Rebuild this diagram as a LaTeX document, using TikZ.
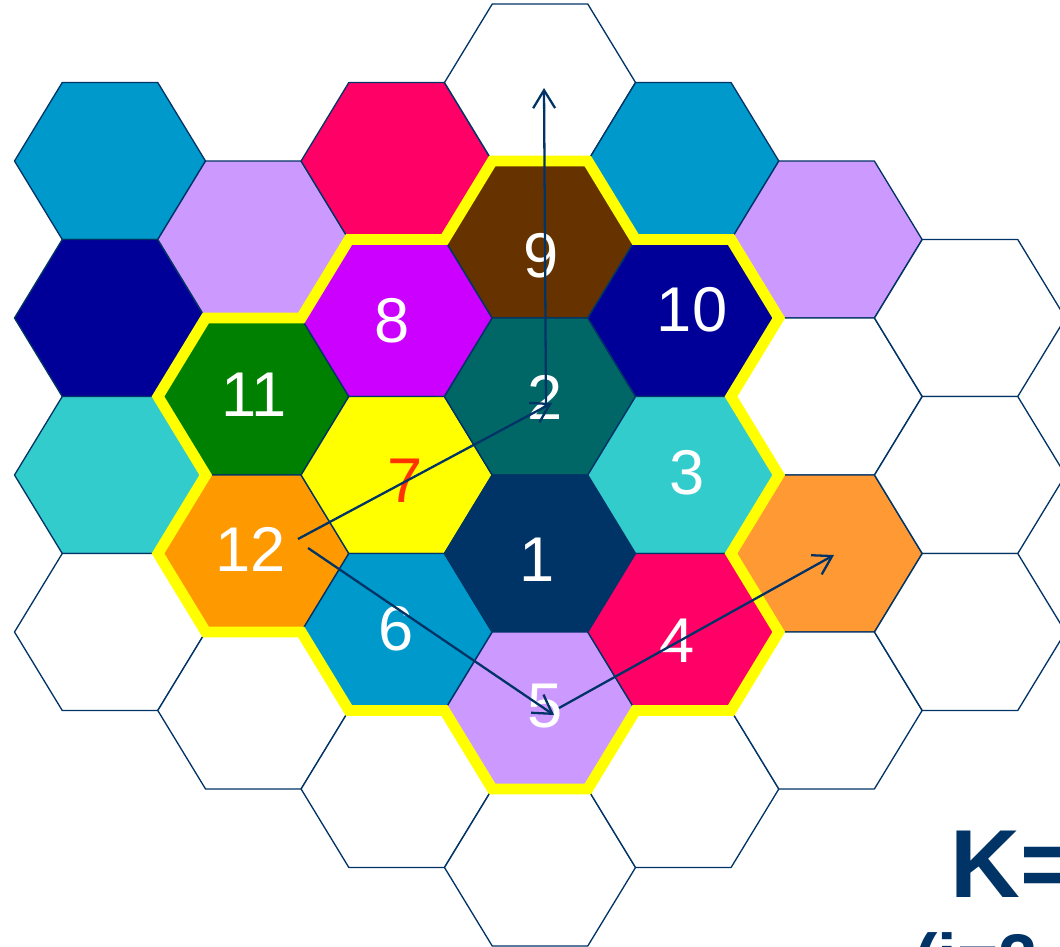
\documentclass[tikz,border=0pt]{standalone}
\usepackage{fontspec}
\setmainfont{Liberation Sans}
\usepackage{xcolor}
\usepackage{tikz}
\usetikzlibrary{arrows.meta}

\definecolor{cellblue}{HTML}{0099CC}
\definecolor{lavender}{HTML}{CC99FF}
\definecolor{rosepink}{HTML}{FF0066}
\definecolor{deepnavy}{HTML}{000099}
\definecolor{cyanish}{HTML}{33CCCC}
\definecolor{leafgreen}{HTML}{008000}
\definecolor{amber}{HTML}{FF9900}
\definecolor{cellviolet}{HTML}{CC00FF}
\definecolor{brightyellow}{HTML}{FFFF00}
\definecolor{cellbrown}{HTML}{663300}
\definecolor{darkteal}{HTML}{006666}
\definecolor{inkblue}{HTML}{003366}
\definecolor{softorange}{HTML}{FF9933}
\definecolor{redorange}{HTML}{FF3300}

% one flat-topped cell: centre x, centre y, fill
\newcommand{\hexcell}[3]{%
  \filldraw[hexline, fill=#3] (#1,#2) +(-95.5,0) -- +(-47.75,-78.5) -- +(47.75,-78.5)
    -- +(95.5,0) -- +(47.75,78.5) -- +(-47.75,78.5) -- cycle;}

\begin{document}
\begin{tikzpicture}[
  x=0.02cm, y=-0.02cm,
  hexline/.style={draw=inkblue, line width=0.75pt, line join=round},
  cluster/.style={draw=brightyellow, line width=6.2pt, line join=miter},
  cellnum/.style={text=white, font=\fontsize{36}{36}\selectfont, inner sep=0pt},
  shiftarrow/.style={draw=inkblue, line width=1.3pt, -{Straight Barb[length=3.6mm, width=4.4mm]}},
  kbig/.style={text=inkblue, font=\fontsize{55}{55}\selectfont\bfseries, inner sep=0pt}
]
  \useasboundingbox (0,0) rectangle (1060,946);
  \clip (0,0) rectangle (1060,946);

  % column 1
  \hexcell{110}{161}{cellblue}
  \hexcell{110}{318}{deepnavy}
  \hexcell{110}{475}{cyanish}
  \hexcell{110}{632}{white}
  % column 2
  \hexcell{253.3}{239.5}{lavender}
  \hexcell{253.3}{396.5}{leafgreen}
  \hexcell{253.3}{553.5}{amber}
  \hexcell{253.3}{710.5}{white}
  % column 3
  \hexcell{396.6}{161}{rosepink}
  \hexcell{396.6}{318}{cellviolet}
  \hexcell{396.6}{475}{brightyellow}
  \hexcell{396.6}{632}{cellblue}
  \hexcell{396.6}{789}{white}
  % column 4
  \hexcell{540}{82.5}{white}
  \hexcell{540}{239.5}{cellbrown}
  \hexcell{540}{396.5}{darkteal}
  \hexcell{540}{553.5}{inkblue}
  \hexcell{540}{710.5}{lavender}
  \hexcell{540}{867.5}{white}
  % column 5
  \hexcell{683.3}{161}{cellblue}
  \hexcell{683.3}{318}{deepnavy}
  \hexcell{683.3}{475}{cyanish}
  \hexcell{683.3}{632}{rosepink}
  \hexcell{683.3}{789}{white}
  % column 6
  \hexcell{826.6}{239.5}{lavender}
  \hexcell{826.6}{396.5}{white}
  \hexcell{826.6}{553.5}{softorange}
  \hexcell{826.6}{710.5}{white}
  % column 7
  \hexcell{970}{318}{white}
  \hexcell{970}{475}{white}
  \hexcell{970}{632}{white}

  % cluster outline
  \draw[cluster] (492.25,161) -- ++(95.5,0) -- ++(47.75,78.5) -- ++(95.5,0)
    -- ++(47.75,78.5) -- ++(-47.75,78.5) -- ++(47.75,78.5) -- ++(-47.75,78.5)
    -- ++(47.75,78.5) -- ++(-47.75,78.5) -- ++(-95.5,0) -- ++(-47.75,78.5)
    -- ++(-95.5,0) -- ++(-47.75,-78.5) -- ++(-95.5,0) -- ++(-47.75,-78.5)
    -- ++(-95.5,0) -- ++(-47.75,-78.5) -- ++(47.75,-78.5) -- ++(-47.75,-78.5)
    -- ++(47.75,-78.5) -- ++(95.5,0) -- ++(47.75,-78.5) -- ++(95.5,0) -- cycle;

  \node[cellnum] (c1)  at (537,560)   {1};
  \node[cellnum] (c2)  at (545,397.5) {2};
  \node[cellnum] (c3)  at (687,473)   {3};
  \node[cellnum] (c4)  at (677.5,641) {4};
  \node[cellnum] (c5)  at (545.5,706) {5};
  \node[cellnum] (c6)  at (396,629)   {6};
  \node[cellnum, text=redorange] (c7) at (405,481) {7};
  \node[cellnum] (c8)  at (392,321)   {8};
  \node[cellnum] (c9)  at (541,256)   {9};
  \node[cellnum] (c10) at (692,309.5) {10};
  \node[cellnum] (c11) at (254,394.5) {11};
  \node[cellnum] (c12) at (251,549)   {12};

  % shift end points
  \coordinate (up0) at (546,405);
  \coordinate (up1) at (544,88);
  \coordinate (a0)  at (298,539);
  \coordinate (a1)  at (552,403);
  \coordinate (b0)  at (308,548);
  \coordinate (b1)  at (554,715);
  \coordinate (d0)  at (559,708);
  \coordinate (d1)  at (834,555);

  \draw[shiftarrow] (up0) -- (up1);
  \draw[shiftarrow] (a0) -- (a1);
  \draw[shiftarrow] (b0) -- (b1);
  \draw[shiftarrow] (d0) -- (d1);

  \node[kbig, anchor=base west] (kval) at (950,897) {K=12};
  \node[kbig, font=\fontsize{40}{40}\selectfont\bfseries, anchor=base west] (ijval) at (914,983) {(i=2, j=2)};
\end{tikzpicture}
\end{document}
